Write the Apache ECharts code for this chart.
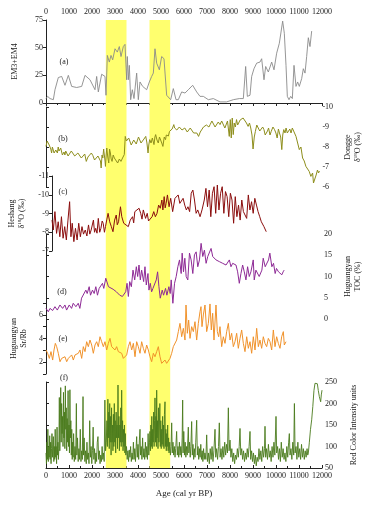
<!DOCTYPE html>
<html><head><meta charset="utf-8">
<script src="https://cdn.jsdelivr.net/npm/echarts/dist/echarts.min.js"></script>
<style>html,body{margin:0;padding:0;background:#fff}#c{width:370px;height:505px}</style>
</head><body><div id="c"></div>
<script>
// ---- data (age in cal yr BP, value) ----
const bands = [[2600, 3500], [4500, 5400]];
const ageTicks = { min: 0, max: 12000, step: 1000 };

const em34 = [[0,4],[72,6],[174,4],[319,3],[391,12],[536,23],[681,24],[826,16],[971,25],[1116,15],[1333,14],[1551,15],[1696,25],[1913,21],[2130,12],[2203,24],[2275,10],[2420,26],[2565,24],[2609,7],[2667,43],[2754,37],[2826,43],[2899,39],[3000,49],[3101,46],[3188,51],[3261,42],[3362,51],[3435,53],[3507,21],[3536,42],[3580,21],[3623,34],[3681,3],[3754,12],[3826,4],[3942,27],[4014,3],[4087,19],[4203,15],[4377,12],[4493,19],[4594,24],[4667,27],[4739,49],[4812,36],[4928,30],[5029,42],[5130,40],[5246,7],[5319,6],[5420,3],[5536,13],[5652,3],[5754,3],[5899,10],[6043,9],[6188,12],[6377,16],[6551,10],[6696,6],[6841,6],[7058,3],[7275,4],[7565,1],[7855,1],[8145,3],[8406,4],[8580,4],[8681,33],[8754,6],[8870,7],[8942,24],[9043,31],[9159,36],[9304,37],[9377,40],[9478,21],[9551,33],[9667,28],[9812,37],[9913,30],[10029,45],[10145,54],[10290,74],[10362,63],[10435,34],[10493,6],[10565,3],[10638,6],[10710,4],[10783,34],[10870,15],[10942,19],[11014,15],[11116,22],[11188,31],[11261,27],[11333,42],[11406,59],[11478,51],[11551,65]];

const dongge = [[0,-8.03],[50,-8.3],[101,-8.4],[140,-8.1],[174,-8.2],[210,-7.9],[246,-7.7],[280,-8.0],[319,-7.95],[355,-7.7],[391,-7.62],[430,-7.85],[464,-7.87],[500,-7.7],[536,-8.0],[570,-7.8],[609,-7.7],[645,-7.95],[681,-7.9],[720,-7.6],[754,-7.53],[790,-7.75],[830,-7.6],[865,-7.8],[899,-7.7],[970,-7.55],[1043,-7.62],[1110,-7.8],[1188,-7.73],[1260,-7.55],[1333,-7.53],[1400,-7.7],[1478,-7.62],[1550,-7.45],[1623,-7.5],[1700,-7.65],[1768,-7.28],[1840,-7.5],[1913,-7.45],[1990,-7.7],[2058,-7.57],[2130,-7.35],[2203,-7.28],[2280,-7.55],[2348,-7.62],[2390,-7.3],[2420,-6.95],[2460,-7.6],[2493,-7.45],[2530,-7.9],[2565,-7.87],[2590,-7.3],[2609,-7.03],[2640,-7.6],[2667,-7.95],[2710,-7.5],[2754,-7.2],[2790,-7.9],[2826,-7.7],[2860,-7.4],[2899,-7.28],[2950,-7.6],[3000,-7.45],[3070,-7.35],[3145,-7.2],[3220,-7.4],[3290,-7.28],[3360,-7.45],[3435,-7.62],[3478,-8.53],[3530,-8.3],[3580,-8.28],[3630,-8.45],[3681,-8.37],[3740,-8.1],[3797,-8.12],[3850,-8.35],[3913,-8.4],[3960,-8.15],[4014,-8.2],[4060,-8.5],[4116,-8.45],[4170,-8.2],[4232,-8.28],[4300,-8.4],[4377,-8.53],[4430,-8.2],[4478,-7.7],[4510,-8.1],[4551,-8.37],[4610,-8.2],[4667,-8.45],[4700,-8.3],[4739,-8.12],[4780,-8.5],[4812,-8.62],[4870,-8.35],[4928,-8.2],[4980,-8.5],[5029,-8.45],[5080,-8.2],[5130,-8.03],[5190,-8.5],[5246,-8.37],[5280,-8.6],[5319,-8.7],[5370,-8.55],[5420,-8.78],[5480,-8.7],[5536,-8.9],[5570,-8.8],[5609,-9.12],[5645,-8.95],[5681,-9.03],[5740,-8.85],[5797,-8.83],[5850,-9.0],[5899,-8.95],[5970,-8.85],[6043,-8.78],[6090,-8.95],[6145,-8.87],[6200,-8.75],[6261,-8.7],[6330,-8.95],[6406,-8.9],[6480,-8.7],[6551,-8.62],[6620,-8.7],[6696,-8.53],[6770,-8.75],[6841,-8.78],[6910,-9.0],[6986,-8.9],[7040,-9.1],[7101,-9.2],[7150,-9.0],[7203,-9.12],[7280,-9.3],[7348,-9.28],[7420,-9.0],[7493,-9.07],[7560,-9.25],[7638,-9.12],[7710,-9.3],[7783,-9.2],[7850,-8.95],[7928,-9.03],[7965,-9.3],[8000,-9.28],[8043,-8.53],[8087,-9.37],[8130,-8.45],[8174,-9.45],[8217,-8.62],[8261,-9.2],[8310,-9.0],[8362,-9.37],[8410,-9.1],[8464,-9.12],[8520,-9.35],[8580,-9.28],[8650,-9.45],[8725,-9.37],[8797,-9.2],[8870,-9.03],[8930,-9.2],[8986,-8.95],[9040,-8.6],[9087,-7.9],[9140,-8.5],[9188,-8.78],[9250,-9.1],[9304,-9.03],[9380,-8.8],[9449,-8.7],[9510,-9.0],[9565,-8.87],[9620,-8.6],[9667,-8.53],[9720,-8.8],[9768,-8.95],[9830,-8.6],[9884,-8.78],[9960,-9.0],[10029,-8.87],[10090,-8.7],[10145,-8.45],[10200,-8.9],[10246,-8.7],[10300,-8.5],[10348,-7.87],[10390,-8.6],[10435,-8.87],[10490,-8.7],[10536,-8.95],[10590,-8.7],[10638,-8.78],[10700,-8.9],[10754,-8.7],[10810,-8.95],[10870,-8.87],[10971,-8.53],[11044,-8.2],[11116,-7.87],[11188,-8.0],[11261,-7.45],[11333,-7.3],[11406,-7.03],[11478,-7.1],[11551,-6.78],[11623,-6.53],[11700,-6.7],[11739,-6.2],[11797,-6.1],[11855,-6.6],[11913,-6.85],[11960,-6.7],[12000,-6.8]];

const heshang = [[0,-8.65],[58,-8.12],[130,-9.1],[203,-7.94],[275,-8.56],[348,-7.76],[420,-8.83],[493,-7.68],[565,-8.3],[638,-7.59],[710,-8.65],[783,-9.63],[841,-7.76],[899,-8.48],[971,-7.5],[1043,-8.21],[1116,-7.59],[1188,-8.48],[1261,-7.76],[1333,-8.3],[1400,-7.9],[1478,-8.12],[1550,-7.8],[1623,-8.39],[1680,-7.9],[1739,-8.12],[1841,-8.65],[1890,-8.0],[1942,-8.21],[2000,-7.95],[2058,-8.74],[2120,-8.0],[2174,-8.21],[2230,-8.6],[2275,-8.48],[2330,-8.0],[2377,-8.3],[2440,-8.7],[2493,-9.01],[2565,-8.56],[2638,-8.3],[2710,-8.03],[2783,-8.65],[2855,-8.92],[2900,-8.4],[2957,-8.56],[3043,-9.36],[3101,-8.83],[3188,-8.48],[3290,-8.39],[3391,-8.3],[3478,-8.65],[3580,-8.83],[3630,-8.5],[3681,-9.1],[3768,-9.01],[3870,-9.28],[3942,-9.01],[4000,-8.7],[4058,-9.19],[4159,-8.74],[4232,-9.01],[4290,-8.6],[4348,-8.65],[4449,-8.83],[4522,-9.1],[4594,-8.83],[4667,-9.01],[4739,-9.45],[4812,-9.28],[4884,-9.72],[4928,-9.19],[4986,-9.9],[5030,-9.3],[5072,-9.54],[5130,-9.99],[5203,-9.36],[5275,-9.81],[5362,-9.1],[5420,-9.01],[5464,-9.81],[5536,-9.72],[5609,-9.99],[5681,-9.54],[5754,-9.63],[5826,-9.81],[5899,-9.45],[5971,-9.19],[6043,-9.36],[6116,-9.1],[6188,-10.08],[6261,-10.25],[6333,-9.72],[6406,-9.01],[6478,-9.19],[6580,-8.83],[6667,-9.19],[6768,-9.72],[6841,-10.34],[6913,-9.36],[6986,-10.25],[7058,-8.83],[7130,-10.08],[7203,-10.43],[7275,-9.01],[7348,-10.52],[7420,-9.19],[7493,-10.08],[7565,-10.43],[7638,-9.01],[7710,-10.17],[7783,-9.9],[7855,-8.83],[7928,-10.08],[8000,-9.72],[8072,-8.48],[8145,-9.9],[8217,-8.83],[8290,-9.45],[8362,-8.65],[8435,-9.72],[8507,-9.1],[8580,-9.01],[8652,-8.74],[8725,-9.99],[8797,-9.19],[8870,-9.63],[8942,-9.01],[9014,-9.81],[9087,-9.45],[9159,-9.1],[9232,-8.83],[9304,-8.56],[9377,-8.65],[9420,-8.3],[9478,-8.39],[9522,-8.03]];

const toc = [[0,2.5],[101,1.7],[174,2.5],[290,2.0],[391,2.9],[493,2.1],[609,3.3],[725,2.5],[826,3.3],[899,2.1],[1014,3.3],[1116,2.5],[1188,3.7],[1304,2.9],[1406,3.7],[1478,2.5],[1551,4.9],[1623,4.5],[1739,6.8],[1797,6.0],[1884,7.6],[1942,5.6],[2029,6.8],[2101,6.0],[2174,7.6],[2246,5.6],[2319,7.2],[2391,6.8],[2464,8.4],[2522,7.2],[2609,9.6],[2667,9.2],[2725,7.6],[2812,7.2],[2928,7.0],[3072,6.4],[3217,5.6],[3333,5.3],[3478,6.4],[3536,8.4],[3594,5.3],[3652,8.8],[3725,7.6],[3797,11.5],[3870,9.2],[3942,12.3],[4000,10.0],[4058,12.7],[4116,9.2],[4174,11.5],[4261,8.8],[4319,12.3],[4377,8.0],[4449,10.7],[4493,6.8],[4551,8.4],[4609,6.4],[4667,7.2],[4739,7.6],[4812,9.2],[4870,11.1],[4928,7.6],[4986,4.9],[5072,6.8],[5130,5.6],[5217,7.2],[5275,5.6],[5362,7.6],[5420,6.0],[5464,9.2],[5536,3.7],[5609,8.4],[5681,10.0],[5754,12.3],[5826,13.9],[5899,10.7],[5942,15.5],[6000,11.1],[6058,14.3],[6116,10.0],[6188,9.2],[6261,15.5],[6333,13.9],[6406,10.7],[6478,15.1],[6551,15.8],[6623,12.3],[6696,13.9],[6768,17.8],[6841,14.7],[6913,16.2],[6986,13.1],[7058,14.7],[7130,15.1],[7203,16.6],[7275,14.7],[7348,14.3],[7420,13.9],[7565,13.5],[7710,13.1],[7855,12.7],[8000,13.9],[8072,12.3],[8145,13.1],[8217,13.1],[8290,12.7],[8362,11.1],[8435,8.4],[8507,10.7],[8580,12.7],[8652,11.1],[8725,9.2],[8797,12.3],[8870,10.0],[8942,11.1],[9043,13.9],[9087,9.2],[9159,11.5],[9232,11.9],[9304,10.0],[9420,11.5],[9478,14.3],[9565,12.3],[9623,11.9],[9710,13.9],[9768,15.5],[9855,12.3],[9928,13.1],[10000,10.7],[10058,11.9],[10145,11.1],[10203,11.5],[10290,10.4],[10348,11.1],[10391,11.5]];

const srRb = [[0,3.03],[72,2.75],[145,2.32],[217,2.89],[290,2.18],[348,3.03],[406,3.59],[464,3.31],[536,2.75],[609,2.04],[681,2.32],[754,2.18],[826,2.46],[899,2.04],[971,2.32],[1043,2.18],[1116,2.61],[1188,2.18],[1261,2.61],[1333,2.46],[1406,2.75],[1478,3.03],[1551,2.32],[1623,3.31],[1696,2.89],[1768,3.73],[1841,3.31],[1913,3.87],[1986,3.45],[2058,2.75],[2130,3.45],[2203,3.73],[2275,3.31],[2348,4.15],[2420,3.73],[2493,3.31],[2565,3.73],[2638,3.03],[2710,3.59],[2783,4.01],[2855,3.31],[2928,3.45],[3000,3.03],[3072,3.31],[3145,2.89],[3217,3.03],[3290,2.75],[3362,2.32],[3435,2.18],[3507,2.61],[3580,3.31],[3652,3.73],[3725,3.03],[3797,3.59],[3870,2.46],[3942,3.73],[4014,3.31],[4087,2.75],[4159,3.73],[4232,3.17],[4304,2.75],[4377,3.45],[4449,3.03],[4522,2.46],[4594,2.04],[4667,2.75],[4739,2.46],[4812,2.89],[4884,3.31],[4957,2.46],[5029,1.9],[5101,1.76],[5174,2.18],[5246,1.9],[5319,2.04],[5391,2.32],[5464,2.75],[5536,3.31],[5609,3.17],[5681,3.87],[5754,4.58],[5826,5.28],[5899,4.15],[5971,4.86],[6043,3.87],[6087,6.83],[6145,4.44],[6203,5.56],[6261,4.01],[6333,5.0],[6406,4.58],[6478,5.42],[6551,3.87],[6623,5.28],[6696,6.27],[6739,6.69],[6783,5.0],[6841,5.99],[6913,6.83],[6986,4.58],[7058,5.28],[7130,6.92],[7188,4.72],[7246,6.13],[7304,3.87],[7391,6.83],[7449,4.58],[7507,4.15],[7565,5.0],[7638,3.31],[7710,4.15],[7783,3.59],[7855,4.58],[7928,5.28],[8000,3.87],[8072,4.44],[8145,3.31],[8217,3.73],[8290,4.44],[8362,3.17],[8435,4.01],[8507,4.72],[8580,3.59],[8652,2.89],[8725,4.15],[8797,3.17],[8870,3.73],[8942,2.75],[9014,4.15],[9087,3.03],[9159,4.86],[9232,3.31],[9304,3.87],[9377,3.17],[9449,4.15],[9522,3.59],[9594,3.31],[9667,4.01],[9739,3.73],[9812,3.03],[9884,4.72],[9957,3.31],[10029,4.15],[10101,3.59],[10174,3.17],[10246,4.15],[10319,4.58],[10362,3.45],[10435,3.73]];

const redColor = [[0,85],[20,60],[40,110],[60,70],[80,140],[100,65],[120,100],[140,75],[160,125],[180,70],[200,110],[220,60],[240,95],[260,130],[280,75],[300,105],[320,123],[340,65],[360,100],[380,70],[400,140],[420,75],[440,100],[460,60],[480,145],[500,80],[520,110],[540,70],[560,95],[580,214],[600,90],[620,150],[640,237],[660,110],[680,200],[700,130],[720,170],[740,100],[760,226],[780,120],[800,180],[820,95],[840,241],[860,140],[880,190],[900,90],[920,165],[940,110],[960,230],[980,100],[1000,150],[1020,85],[1040,232],[1060,120],[1080,160],[1100,80],[1120,140],[1140,70],[1160,110],[1180,75],[1200,130],[1230,65],[1260,100],[1290,70],[1320,200],[1340,80],[1370,120],[1400,65],[1430,95],[1460,70],[1490,140],[1520,65],[1550,90],[1580,70],[1610,216],[1630,80],[1660,120],[1690,65],[1720,90],[1750,60],[1780,110],[1810,70],[1840,85],[1870,60],[1900,160],[1930,75],[1960,100],[1990,60],[2020,90],[2050,145],[2080,70],[2110,95],[2140,60],[2170,85],[2200,65],[2230,110],[2260,123],[2290,70],[2320,90],[2350,60],[2380,80],[2410,65],[2440,100],[2470,70],[2500,85],[2530,65],[2560,208],[2590,90],[2620,110],[2650,160],[2670,100],[2690,210],[2710,120],[2730,180],[2750,95],[2770,200],[2790,110],[2810,170],[2830,80],[2850,190],[2870,110],[2890,150],[2910,90],[2930,175],[2950,100],[2970,200],[2990,110],[3010,160],[3030,85],[3050,180],[3070,120],[3090,150],[3110,95],[3130,243],[3150,120],[3170,170],[3190,90],[3210,150],[3230,110],[3250,190],[3270,100],[3290,231],[3310,110],[3330,160],[3350,90],[3370,140],[3390,100],[3410,150],[3430,85],[3450,130],[3470,80],[3500,100],[3530,70],[3560,90],[3590,65],[3620,92],[3650,75],[3680,100],[3710,65],[3740,85],[3770,70],[3800,110],[3830,70],[3860,95],[3890,65],[3920,100],[3942,123],[3970,75],[4000,105],[4030,70],[4060,115],[4087,140],[4110,80],[4140,100],[4170,70],[4200,120],[4230,75],[4260,95],[4290,70],[4320,110],[4350,75],[4380,100],[4410,70],[4440,130],[4470,80],[4500,110],[4520,135],[4540,90],[4560,150],[4580,100],[4600,170],[4620,95],[4640,140],[4660,110],[4680,180],[4700,100],[4720,160],[4739,213],[4760,110],[4780,170],[4800,100],[4812,231],[4830,120],[4850,160],[4870,95],[4890,190],[4910,110],[4930,150],[4950,200],[4970,100],[4990,160],[5010,95],[5030,140],[5050,105],[5070,170],[5090,100],[5110,150],[5130,95],[5150,175],[5174,204],[5190,100],[5210,140],[5230,90],[5250,130],[5270,100],[5290,150],[5310,90],[5330,120],[5350,85],[5380,110],[5410,80],[5440,100],[5464,155],[5490,85],[5520,110],[5550,80],[5580,100],[5610,75],[5640,95],[5680,135],[5710,80],[5740,100],[5770,75],[5800,110],[5830,80],[5860,100],[5890,75],[5920,120],[5942,208],[5960,85],[5990,135],[6020,80],[6050,110],[6080,75],[6110,100],[6140,80],[6188,145],[6210,85],[6240,110],[6270,75],[6300,100],[6333,158],[6360,80],[6390,105],[6420,70],[6450,95],[6480,75],[6510,110],[6551,161],[6580,80],[6610,100],[6640,70],[6670,95],[6700,75],[6730,105],[6760,70],[6790,90],[6820,65],[6850,95],[6880,70],[6910,85],[6950,70],[6986,127],[7020,65],[7060,85],[7100,60],[7140,95],[7180,70],[7220,100],[7260,65],[7300,90],[7348,140],[7380,75],[7420,95],[7460,70],[7500,100],[7536,155],[7570,75],[7610,95],[7650,70],[7690,100],[7730,75],[7770,110],[7810,80],[7850,105],[7890,85],[7928,190],[7960,90],[8000,115],[8040,75],[8080,95],[8120,65],[8160,85],[8200,60],[8240,80],[8280,70],[8320,95],[8360,75],[8400,100],[8435,142],[8470,80],[8510,95],[8550,70],[8590,90],[8630,65],[8670,85],[8710,70],[8750,95],[8790,75],[8830,100],[8870,135],[8900,70],[8940,90],[8980,65],[9020,85],[9060,60],[9100,80],[9140,55],[9180,75],[9220,65],[9260,95],[9300,70],[9340,90],[9380,65],[9420,100],[9460,75],[9500,95],[9522,147],[9550,75],[9590,95],[9630,70],[9670,105],[9710,75],[9750,90],[9790,65],[9830,100],[9870,75],[9910,110],[9950,80],[10000,170],[10030,85],[10070,100],[10110,70],[10150,95],[10190,65],[10230,110],[10270,75],[10310,95],[10350,70],[10390,85],[10430,65],[10470,100],[10510,75],[10550,110],[10580,130],[10610,80],[10650,95],[10690,70],[10730,110],[10770,80],[10800,200],[10830,85],[10870,100],[10910,70],[10950,110],[10990,75],[11030,95],[11070,70],[11110,105],[11150,75],[11190,95],[11230,70],[11270,90],[11310,75],[11350,95],[11380,80],[11406,85],[11450,110],[11500,140],[11551,162],[11600,193],[11650,230],[11696,247],[11740,248],[11797,246],[11840,230],[11884,216],[11942,204],[11970,220],[12000,231]];

const panelTags = ['(a)', '(b)', '(c)', '(d)', '(e)', '(f)'];

// ---- chart ----
const FF = '"Liberation Serif","Times New Roman",serif';
const INK = '#222';
const L = 46, W = 276;
const grids = [
  {top: 20, height: 448},   // band background
  {top: 20, height: 83},    // a
  {top: 107, height: 80},   // b
  {top: 176, height: 75},   // c
  {top: 234, height: 85},   // d
  {top: 303, height: 71},   // e
  {top: 382, height: 86}    // f
].map(g => Object.assign({left: L, width: W, containLabel: false}, g));

const axisLineStyle = {show: true, lineStyle: {color: INK, width: 1}};
const labelStyle = {color: INK, fontFamily: FF, fontSize: 8};
const plain = v => String(v);

function xAx(i, visible, pos) {
  const o = {gridIndex: i, type: 'value', min: ageTicks.min, max: ageTicks.max, interval: ageTicks.step,
    show: visible, splitLine: {show: false}};
  if (visible) {
    Object.assign(o, {
      position: pos, axisLine: axisLineStyle,
      axisTick: {show: true, inside: true, length: 3, lineStyle: {color: INK}},
      minorTick: {show: true, splitNumber: 2, length: 2, lineStyle: {color: INK}},
      axisLabel: Object.assign({margin: 4, formatter: plain, showMinLabel: true, showMaxLabel: true}, labelStyle)
    });
  }
  return o;
}
const xAxes = grids.map((g, i) => xAx(i, i === 1 || i === 6, i === 1 ? 'top' : 'bottom'));
xAxes[6].name = 'Age (cal yr BP)';
xAxes[6].nameLocation = 'middle';
xAxes[6].nameGap = 21;
xAxes[6].nameTextStyle = {color: INK, fontFamily: FF, fontSize: 9};

const rich = {
  n: {fontFamily: FF, fontSize: 8, color: INK, lineHeight: 10},
  s: {fontFamily: FF, fontSize: 5, color: INK, lineHeight: 10, verticalAlign: 'top', padding: [0, 0, 3, 0]}
};
function yAx(i, pos, min, max, step, name, gap, opts) {
  return Object.assign({
    gridIndex: i, type: 'value', position: pos, min: min, max: max, interval: step,
    axisLine: axisLineStyle,
    axisTick: {show: true, length: 3, lineStyle: {color: INK}},
    axisLabel: Object.assign({margin: 3, formatter: plain}, labelStyle),
    splitLine: {show: false},
    name: name, nameLocation: 'middle', nameGap: gap,
    nameTextStyle: {rich: rich, fontFamily: FF, fontSize: 8, color: INK}
  }, opts || {});
}
const yAxes = [
  {gridIndex: 0, type: 'value', min: 0, max: 1, show: false},
  yAx(1, 'left', 0, 75, 25, '{n|EM3+EM4}', 26),
  yAx(2, 'right', -10, -6, 1, '{n|Dongge}\n{n|δ}{s|18}{n|O (‰)}', 21, {inverse: true}),
  yAx(3, 'left', -11, -7, 1, '{n|Heshang}\n{n|δ}{s|18}{n|O (‰)}', 25, {inverse: true}),
  yAx(4, 'right', 0, 20, 5, '{n|Huguangyan}\n{n|TOC (%)}', 22),
  yAx(5, 'left', 1, 7, 1, '{n|Huguangyan}\n{n|Sr/Rb}', 12,
      {axisLabel: Object.assign({margin: 3, formatter: v => (v % 2 === 0 ? String(v) : '')}, labelStyle)}),
  yAx(6, 'right', 50, 250, 50, '{n|Red Color Intensity units}', 27)
];

function line(i, data, color, w) {
  return {type: 'line', xAxisIndex: i, yAxisIndex: i, data: data, symbol: 'none', z: 3,
    lineStyle: {color: color, width: w}, itemStyle: {color: color}, silent: true};
}
const series = [
  {type: 'line', xAxisIndex: 0, yAxisIndex: 0, data: [[0, 0]], symbol: 'none', z: 1,
   lineStyle: {opacity: 0}, silent: true,
   markArea: {silent: true, itemStyle: {color: '#ffff6e', opacity: 1},
     data: bands.map(b => [{xAxis: b[0]}, {xAxis: b[1]}])}},
  line(1, em34, '#8a8a8a', 0.9),
  line(2, dongge, '#8e8e1c', 1),
  line(3, heshang, '#8b0d0d', 1),
  line(4, toc, '#8e2a96', 1),
  line(5, srRb, '#f0922b', 1),
  line(6, redColor, '#4a7a1c', 0.9)
];

const tagPos = [[64, 62], [63, 139], [63, 192], [62, 292], [63, 339], [64, 378]];
const graphic = panelTags.map((t, k) => ({
  type: 'text', x: tagPos[k][0], y: tagPos[k][1], z: 10,
  style: {text: t, fill: INK, font: '8px ' + FF, align: 'center', verticalAlign: 'middle'}
}));

const chart = echarts.init(document.getElementById('c'), null, {renderer: 'canvas'});
chart.setOption({
  animation: false,
  backgroundColor: '#fff',
  grid: grids, xAxis: xAxes, yAxis: yAxes, series: series, graphic: graphic
});
</script></body></html>
